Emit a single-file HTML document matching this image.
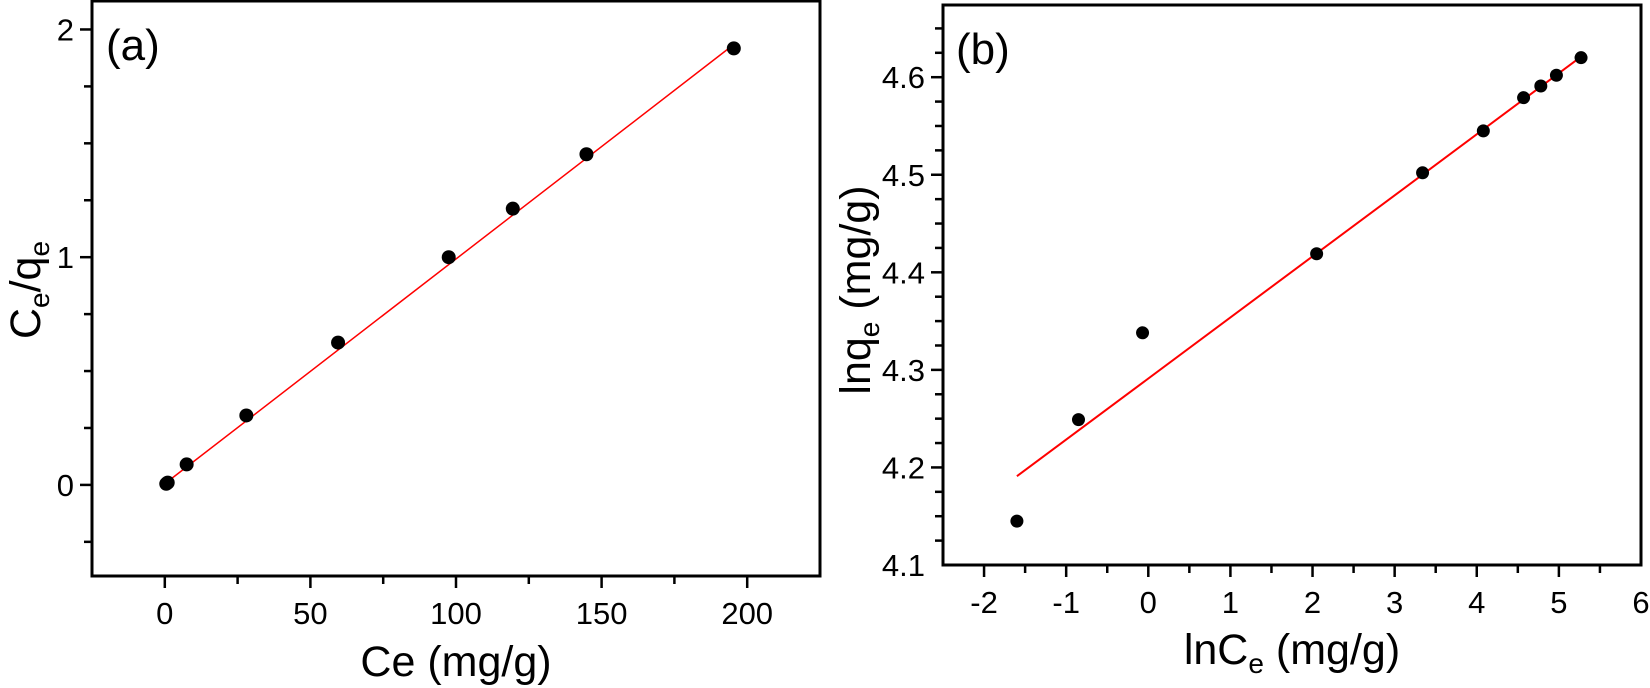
<!DOCTYPE html>
<html><head><meta charset="utf-8">
<style>
html,body{margin:0;padding:0;background:#fff;}
svg{display:block;font-family:"Liberation Sans",Arial,sans-serif;}
</style></head>
<body>
<svg id="chart" width="1650" height="688" viewBox="0 0 1650 688">
  <g id="pa"></g>
  <g id="pb"></g>
</svg>
<script>
// Panel (a) data
const aX = [0.5, 1, 7.5, 28, 59.5, 97.5, 119.5, 144.8, 195.4];
const aY = [0.005, 0.01, 0.09, 0.305, 0.625, 1.0, 1.213, 1.452, 1.917];
const aFitX = [0, 195];
const aFitY = [0.005, 1.93];
const aXTicks = [0, 50, 100, 150, 200];
const aYTicks = [0, 1, 2];
// Panel (b) data
const bX = [-1.6, -0.85, -0.07, 2.05, 3.34, 4.08, 4.57, 4.78, 4.97, 5.27];
const bY = [4.145, 4.249, 4.338, 4.419, 4.502, 4.545, 4.579, 4.591, 4.602, 4.620];
const bFitX = [-1.6, 5.27];
const bFitY = [4.191, 4.621];
const bXTicks = [-2, -1, 0, 1, 2, 3, 4, 5, 6];
const bYTicks = [4.1, 4.2, 4.3, 4.4, 4.5, 4.6];

const NS = "http://www.w3.org/2000/svg";
function mk(parent, tag, attrs, text){
  const e = document.createElementNS(NS, tag);
  for (const k in attrs) e.setAttribute(k, attrs[k]);
  if (text !== undefined) e.textContent = text;
  parent.appendChild(e);
  return e;
}
function lin(d0,d1,r0,r1){ return v => r0 + (v-d0)/(d1-d0)*(r1-r0); }

function panel(g, cfg){
  const sx = lin(cfg.xd[0], cfg.xd[1], cfg.L, cfg.R);
  const sy = lin(cfg.yd[0], cfg.yd[1], cfg.B, cfg.T);
  const frame = mk(g,'rect',{x:cfg.L,y:cfg.T,width:cfg.R-cfg.L,height:cfg.B-cfg.T,fill:'none',stroke:'#000','stroke-width':3});
  
  
  for (let v = cfg.xMinorStart; v <= cfg.xd[1]+1e-9; v += cfg.xMinor){
    const major = Math.abs(v/cfg.xMajor - Math.round(v/cfg.xMajor)) < 1e-6;
    const x = sx(v);
    if (x < cfg.L+1 || x > cfg.R-1) continue;
    const t = mk(g,'line',{x1:x,x2:x,y1:cfg.B,y2:cfg.B+(major?12:8),stroke:'#000','stroke-width':2.5});
    
    
  }
  cfg.xTicks.forEach(v=>{
    const t = mk(g,'text',{x:sx(v),y:cfg.B+48,'font-size':31,'text-anchor':'middle'}, String(v));
    
    
  });
  for (let v = cfg.yMinorStart; v <= cfg.yd[1]+1e-9; v += cfg.yMinor){
    const major = Math.abs(v/cfg.yMajor - Math.round(v/cfg.yMajor)) < 1e-6;
    const y = sy(v);
    if (y < cfg.T+1 || y > cfg.B-1) continue;
    const t = mk(g,'line',{x1:cfg.L-(major?12:8),x2:cfg.L,y1:y,y2:y,stroke:'#000','stroke-width':2.5});
    
    
  }
  cfg.yTicks.forEach(v=>{
    const t = mk(g,'text',{x:cfg.L-18,y:sy(v)+11,'font-size':31,'text-anchor':'end'}, cfg.yFmt(v));
    
    
  });
  const fl = mk(g,'line',{x1:sx(cfg.fx[0]),y1:sy(cfg.fy[0]),x2:sx(cfg.fx[1]),y2:sy(cfg.fy[1]),stroke:'#ff0000','stroke-width':cfg.fw});
  
  
  cfg.px.forEach((v,i)=>{
    const c = mk(g,'circle',{cx:sx(v),cy:sy(cfg.py[i]),r:cfg.r,fill:'#000'});
    
    
  });
}

panel(document.getElementById('pa'), {
  L:92, R:820, T:1, B:576, xd:[-25,225], yd:[-0.4,2.125],
  xMajor:50, xMinor:25, xMinorStart:-25, yMajor:1, yMinor:0.25, yMinorStart:-0.25,
  xTicks:aXTicks, yTicks:aYTicks, yFmt:v=>String(v),
  px:aX, py:aY, fx:aFitX, fy:aFitY, r:7, fw:1.5
});
panel(document.getElementById('pb'), {
  L:943, R:1641, T:5, B:565, xd:[-2.5,6], yd:[4.1,4.674],
  xMajor:1, xMinor:0.5, xMinorStart:-2.5, yMajor:0.1, yMinor:0.025, yMinorStart:4.1,
  xTicks:bXTicks, yTicks:bYTicks, yFmt:v=>v.toFixed(1),
  px:bX, py:bY, fx:bFitX, fy:bFitY, r:6.5, fw:2
});
</script>
<div style="position:absolute;left:0;top:0;width:1650px;height:688px;pointer-events:none">
<svg width="1650" height="688" style="font-family:'Liberation Sans',Arial,sans-serif">
  <text x="106" y="60" font-size="44">(a)</text>
  <text x="956" y="64" font-size="44">(b)</text>
  <text x="456" y="676" font-size="43" text-anchor="middle">Ce (mg/g)</text>
  <text x="1292" y="664" font-size="43" text-anchor="middle">lnC<tspan font-size="28" dy="9">e</tspan><tspan dy="-9"> (mg/g)</tspan></text>
  <text transform="translate(40,290) rotate(-90)" font-size="43" text-anchor="middle">C<tspan font-size="28" dy="9">e</tspan><tspan dy="-9">/q</tspan><tspan font-size="28" dy="9">e</tspan></text>
  <text transform="translate(870,290) rotate(-90)" font-size="43" text-anchor="middle">lnq<tspan font-size="28" dy="9">e</tspan><tspan dy="-9"> (mg/g)</tspan></text>
</svg>
</div>
</body></html>
